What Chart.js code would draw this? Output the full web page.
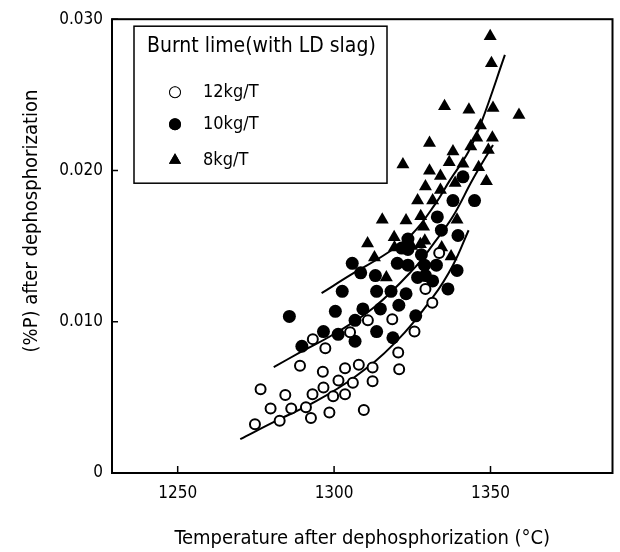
<!DOCTYPE html>
<html>
<head>
<meta charset="utf-8">
<script src="https://cdn.jsdelivr.net/npm/chart.js@4.4.1/dist/chart.umd.min.js"></script>
<style>
  html, body { margin: 0; padding: 0; background: #fff; overflow: hidden; }
  canvas { display: block; }
</style>
</head>
<body>
<canvas id="c" width="620" height="552"></canvas>
<script>
// values
const temp12 = [1274.7, 1276.5, 1279.7, 1282.6, 1284.4, 1286.3, 1289.1, 1291.0, 1292.6, 1293.1, 1293.2,
  1296.4, 1296.6, 1297.2, 1298.5, 1299.7, 1301.4, 1303.5, 1303.5, 1305.1, 1306.0, 1307.9, 1309.5,
  1310.8, 1312.3, 1312.3, 1318.6, 1320.5, 1320.8, 1325.7, 1329.2, 1331.4, 1333.6];
const p12 = [0.00323, 0.00554, 0.00427, 0.00346, 0.00515, 0.00427, 0.00709, 0.00434, 0.00363, 0.00520, 0.00885,
  0.00670, 0.00566, 0.00825, 0.00400, 0.00508, 0.00612, 0.00693, 0.00520, 0.00931, 0.00596, 0.00716, 0.00416,
  0.01009, 0.00697, 0.00607, 0.01016, 0.00797, 0.00686, 0.00935, 0.01217, 0.01125, 0.01455];

const temp10 = [1285.7, 1289.7, 1296.6, 1300.4, 1301.3, 1302.6, 1305.8, 1306.7, 1306.7, 1308.5, 1309.2,
  1313.2, 1313.6, 1313.6, 1314.8, 1318.2, 1318.8, 1320.2, 1320.7, 1321.6, 1323.0, 1323.6, 1323.6, 1323.6,
  1326.1, 1326.7, 1327.9, 1328.9, 1329.2, 1331.5, 1332.7, 1333.0, 1334.3, 1336.4, 1338.0, 1339.3, 1339.6,
  1341.2, 1344.9];
const p10 = [0.01035, 0.00838, 0.00935, 0.01069, 0.00917, 0.01201, 0.01386, 0.01009, 0.00871, 0.01323, 0.01085,
  0.01305, 0.01201, 0.00935, 0.01085, 0.01201, 0.00894, 0.01386, 0.01109, 0.01487, 0.01185, 0.01374, 0.01547, 0.01478,
  0.01039, 0.01293, 0.01443, 0.01374, 0.01305, 0.01270, 0.01374, 0.01693, 0.01605, 0.01217, 0.01801, 0.01339, 0.01570,
  0.01958, 0.01801];

const temp8 = [1310.7, 1312.9, 1315.4, 1316.7, 1319.2, 1319.3, 1322.0, 1323.0, 1324.8, 1326.7, 1327.6, 1327.7,
  1328.6, 1329.0, 1329.2, 1330.5, 1330.5, 1331.5, 1334.0, 1334.0, 1334.4, 1335.3, 1336.8, 1337.4, 1338.0,
  1338.7, 1339.3, 1341.2, 1343.1, 1343.7, 1345.6, 1346.2, 1346.8, 1348.7, 1349.3, 1349.9, 1350.3, 1350.8,
  1350.6, 1359.1];
const p8 = [0.01517, 0.01425, 0.01674, 0.01293, 0.01559, 0.01490, 0.02039, 0.01670, 0.01501, 0.01801, 0.01513, 0.01697,
  0.01628, 0.01536, 0.01894, 0.02182, 0.01998, 0.01801, 0.01963, 0.01871, 0.01490, 0.02425, 0.02055, 0.01432, 0.02125,
  0.01917, 0.01674, 0.02044, 0.02402, 0.02159, 0.02217, 0.02021, 0.02298, 0.01928, 0.02136, 0.02887, 0.02709, 0.02413,
  0.02217, 0.02367];

// fitted curves
const fit12T = [1270.0, 1281.6, 1294.1, 1306.6, 1319.2, 1331.7, 1338.0, 1343.0];
const fit12P = [0.00224, 0.00346, 0.00473, 0.00635, 0.00855, 0.01166, 0.01374, 0.01605];
const fit10T = [1280.7, 1289.1, 1300.4, 1312.9, 1325.5, 1331.7, 1338.0, 1344.3, 1350.8];
const fit10P = [0.00700, 0.00797, 0.00924, 0.01097, 0.01351, 0.01513, 0.01697, 0.01940, 0.02169];
const fit8T = [1296.0, 1305.8, 1316.4, 1324.8, 1332.2, 1337.1, 1342.9, 1347.1, 1354.6];
const fit8P = [0.01189, 0.01316, 0.01446, 0.01577, 0.01774, 0.01938, 0.02122, 0.02319, 0.02764];

const seriesLabels = ['12kg/T', '10kg/T', '8kg/T'];
const legendTitle = 'Burnt lime(with LD slag)';
const xTicks = [1250, 1300, 1350];
const yTicks = [0, 0.01, 0.02, 0.03];
const xTitle = 'Temperature after dephosphorization (\u00b0C)';
const yTitle = '(%P) after dephosphorization';

const FONT = '"Liberation Sans Narrow", "DejaVu Sans Condensed", "Roboto Condensed", "Liberation Sans", sans-serif';

const pts = (xs, ys) => xs.map((x, i) => ({ x, y: ys[i] }));

const fitLine = (xs, ys) => ({
  type: 'line',
  label: '',
  data: pts(xs, ys),
  borderColor: '#000',
  borderWidth: 2,
  pointRadius: 0,
  tension: 0.4,
  fill: false,
  isFit: true,
});

// frame, inward ticks, y title, boxed legend
const decorations = {
  id: 'decorations',
  afterDraw(chart) {
    const { ctx, chartArea: a, scales } = chart;
    ctx.save();
    ctx.strokeStyle = '#000';
    ctx.lineWidth = 2;
    ctx.strokeRect(a.left, a.top, a.right - a.left, a.bottom - a.top);

    ctx.lineWidth = 1.5;
    ctx.beginPath();
    xTicks.forEach(v => {
      const x = scales.x.getPixelForValue(v);
      ctx.moveTo(x, a.bottom);
      ctx.lineTo(x, a.bottom - 7);
    });
    yTicks.forEach(v => {
      const y = scales.y.getPixelForValue(v);
      ctx.moveTo(a.left, y);
      ctx.lineTo(a.left + 6, y);
    });
    ctx.stroke();

    // y axis title
    ctx.fillStyle = '#000';
    ctx.font = '20px ' + FONT;
    ctx.textAlign = 'center';
    ctx.textBaseline = 'middle';
    ctx.translate(32, 221);
    ctx.rotate(-Math.PI / 2);
    ctx.fillText(yTitle, 0, 0);
    ctx.restore();

    // legend box
    ctx.save();
    const bx = a.left + 22, by = a.top + 7, bw = 253, bh = 157;
    ctx.fillStyle = '#fff';
    ctx.fillRect(bx, by, bw, bh);
    ctx.strokeStyle = '#000';
    ctx.lineWidth = 1.5;
    ctx.strokeRect(bx, by, bw, bh);
    ctx.fillStyle = '#000';
    ctx.font = '21px ' + FONT;
    ctx.textAlign = 'left';
    ctx.textBaseline = 'middle';
    ctx.fillText(legendTitle, bx + 13, by + 20);
    ctx.font = '18px ' + FONT;
    const rows = [66, 98, 134];
    chart.data.datasets.filter(d => !d.isFit).forEach((d, i) => {
      const y = by + rows[i];
      Chart.helpers.drawPoint(ctx, {
        pointStyle: d.pointStyle,
        radius: d.legendRadius,
        rotation: 0,
        borderWidth: d.borderWidth,
      }, bx + 41, y);
      ctx.fillStyle = d.backgroundColor;
      ctx.strokeStyle = '#000';
      ctx.lineWidth = d.borderWidth;
      if (d.borderWidth) ctx.stroke();
      ctx.fill();
      ctx.fillStyle = '#000';
      ctx.fillText(d.label, bx + 69, y);
    });
    ctx.restore();
  }
};

new Chart(document.getElementById('c'), {
  type: 'scatter',
  data: {
    datasets: [
      {
        label: seriesLabels[0],
        data: pts(temp12, p12),
        pointStyle: 'circle',
        pointRadius: 5,
        legendRadius: 5,
        backgroundColor: '#fff',
        borderColor: '#000',
        borderWidth: 2,
      },
      {
        label: seriesLabels[1],
        data: pts(temp10, p10),
        pointStyle: 'circle',
        pointRadius: 6.5,
        legendRadius: 6,
        backgroundColor: '#000',
        borderColor: '#000',
        borderWidth: 0,
      },
      {
        label: seriesLabels[2],
        data: pts(temp8, p8),
        pointStyle: 'triangle',
        pointRadius: 7.5,
        legendRadius: 7,
        backgroundColor: '#000',
        borderColor: '#000',
        borderWidth: 0,
      },
      fitLine(fit12T, fit12P),
      fitLine(fit10T, fit10P),
      fitLine(fit8T, fit8P),
    ]
  },
  options: {
    responsive: false,
    animation: false,
    devicePixelRatio: 1,
    layout: { padding: { top: 14, right: 1, left: 0, bottom: 0 } },
    plugins: {
      legend: { display: false },
      tooltip: { enabled: false },
    },
    scales: {
      x: {
        type: 'linear',
        min: 1229,
        max: 1389,
        afterBuildTicks: s => { s.ticks = xTicks.map(v => ({ value: v })); },
        afterFit: s => { s.height = 79; s.paddingRight = 0; },
        grid: { drawOnChartArea: false, drawTicks: false },
        border: { display: false },
        ticks: {
          color: '#000',
          padding: 10,
          maxRotation: 0,
          font: { family: FONT, size: 17 },
          callback: v => String(v),
        },
        title: {
          display: true,
          text: xTitle,
          color: '#000',
          font: { family: FONT, size: 20 },
          padding: { top: 0, bottom: 1 },
        }
      },
      y: {
        min: 0,
        max: 0.03,
        afterBuildTicks: s => { s.ticks = yTicks.map(v => ({ value: v })); },
        afterFit: s => { s.width = 112; },
        grid: { drawOnChartArea: false, drawTicks: false },
        border: { display: false },
        ticks: {
          color: '#000',
          padding: 9,
          font: { family: FONT, size: 17 },
          callback: v => v === 0 ? '0' : v.toFixed(3),
        }
      }
    }
  },
  plugins: [decorations]
});
</script>
</body>
</html>
